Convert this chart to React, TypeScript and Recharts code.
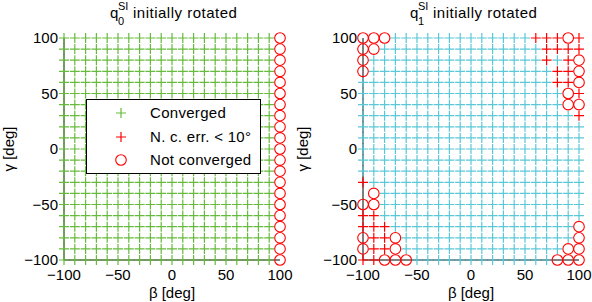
import React from 'react';
import { ScatterChart, Scatter, XAxis, YAxis, Legend } from 'recharts';

const betaValues = [-100, -90, -80, -70, -60, -50, -40, -30, -20, -10, 0, 10, 20, 30, 40, 50, 60, 70, 80, 90, 100];
const gammaValues = [-100, -90, -80, -70, -60, -50, -40, -30, -20, -10, 0, 10, 20, 30, 40, 50, 60, 70, 80, 90, 100];
const axisTicks = [-100, -50, 0, 50, 100];

// q0: only the beta = 100 column fails
const leftNotConvergedBeta = [100];

// q1: [beta, gamma]
const rightNcErr: [number, number][] = [
  [60, 100], [70, 100], [80, 100], [100, 100],
  [70, 90], [80, 90], [90, 90], [100, 90],
  [70, 80], [90, 80],
  [80, 70], [90, 70],
  [80, 60], [90, 60],
  [100, 50], [100, 30],
  [-100, -30],
  [-100, -60], [-90, -60],
  [-100, -70], [-90, -70], [-80, -70],
  [-90, -80], [-80, -80],
  [-90, -90], [-80, -90],
  [-100, -100], [-90, -100],
];
const rightNotConverged: [number, number][] = [
  [-100, 100], [-90, 100], [-80, 100], [-100, 90], [-90, 90], [-100, 80], [-100, 70],
  [90, 100], [100, 80], [100, 70], [100, 60], [90, 50], [90, 40], [100, 40],
  [-90, -40], [-100, -50], [-90, -50],
  [-100, -80], [-70, -80], [-100, -90], [-70, -90],
  [-80, -100], [-70, -100], [-60, -100],
  [100, -70], [100, -80], [90, -90], [100, -90], [80, -100], [90, -100], [100, -100],
];
const rightNoResult: [number, number][] = [[-100, -40]];

const GREEN = '#66bb3c';
const CYAN = '#5bc8d8';
const RED = '#ff0000';
const FONT = '"Liberation Sans", Arial, sans-serif';

type Pt = { beta: number; gamma: number };

const toPts = (list: [number, number][]): Pt[] => list.map(([beta, gamma]) => ({ beta, gamma }));
const has = (list: [number, number][], b: number, g: number) => list.some(([x, y]) => x === b && y === g);

const allGrid: [number, number][] = betaValues.flatMap((b) => gammaValues.map((g) => [b, g] as [number, number]));

const leftConverged = toPts(allGrid.filter(([b]) => !leftNotConvergedBeta.includes(b)));
const leftFailed = toPts(allGrid.filter(([b]) => leftNotConvergedBeta.includes(b)));

const rightConverged = toPts(
  allGrid.filter(([b, g]) => !has(rightNcErr, b, g) && !has(rightNotConverged, b, g) && !has(rightNoResult, b, g))
);
const rightErr = toPts(rightNcErr);
const rightFailed = toPts(rightNotConverged);

const plusShape = (color: string) => (props: any) => {
  const { cx, cy } = props;
  return (
    <path
      d={`M${cx - 5},${cy}H${cx + 5}M${cx},${cy - 5}V${cy + 5}`}
      stroke={color}
      strokeWidth={1.2}
      fill="none"
    />
  );
};

const circleShape = (props: any) => {
  const { cx, cy } = props;
  return <circle cx={cx} cy={cy} r={5.3} stroke={RED} strokeWidth={1.1} fill="none" />;
};

const fmt = (v: number) => String(v).replace('-', '\u2212');

const tickStyle = { fill: '#000', fontSize: 15, fontFamily: FONT };

const LegendBox = () => (
  <div
    style={{
      width: 173,
      height: 73,
      border: '1px solid #000',
      background: '#fff',
      fontFamily: FONT,
    }}
  >
    <svg width={173} height={73}>
      <g fontSize={15} fill="#000" letterSpacing={0.3}>
        <path d="M29,13H39M34,8V18" stroke={GREEN} strokeWidth={1.2} />
        <text x={63} y={18}>Converged</text>
        <path d="M29,37H39M34,32V42" stroke={RED} strokeWidth={1.2} />
        <text x={63} y={42}>N. c. err. &lt; 10°</text>
        <circle cx={34} cy={60} r={5.3} stroke={RED} strokeWidth={1.1} fill="none" />
        <text x={63} y={65}>Not converged</text>
      </g>
    </svg>
  </div>
);

function Panel({
  left,
  marginLeft,
  marginRight,
  yWidth,
  children,
  withLegend,
}: {
  left: number;
  marginLeft: number;
  marginRight: number;
  yWidth: number;
  children: React.ReactNode;
  withLegend?: boolean;
}) {
  return (
    <div style={{ position: 'absolute', left, top: 0 }}>
      <ScatterChart
        width={296}
        height={302}
        margin={{ top: 38, right: marginRight, left: marginLeft, bottom: 12 }}
      >
        <XAxis
          type="number"
          dataKey="beta"
          domain={[-100, 100]}
          ticks={axisTicks}
          tickFormatter={fmt}
          tick={tickStyle}
          tickLine={false}
          tickSize={0}
          tickMargin={9}
          height={30}
          axisLine={{ stroke: '#000' }}
        />
        <YAxis
          type="number"
          dataKey="gamma"
          domain={[-100, 100]}
          ticks={axisTicks}
          tickFormatter={fmt}
          tick={tickStyle}
          tickLine={false}
          tickSize={0}
          tickMargin={6}
          width={yWidth}
          axisLine={{ stroke: '#000' }}
        />
        {children}
        {withLegend && (
          <Legend
            layout="vertical"
            align="center"
            verticalAlign="middle"
            content={() => <LegendBox />}
            wrapperStyle={{ left: 86, top: 99, width: 175, height: 75 }}
          />
        )}
      </ScatterChart>
    </div>
  );
}

function Title({ x, sub }: { x: number; sub: string }) {
  return (
    <g fontFamily={FONT} fill="#000">
      <text x={x} y={18} fontSize={15}>q</text>
      <text x={x + 8} y={25} fontSize={11}>{sub}</text>
      <text x={x + 8} y={10} fontSize={11}>SI</text>
      <text x={x + 23} y={18} fontSize={15} letterSpacing={0.5}>initially rotated</text>
    </g>
  );
}

export default function App() {
  return (
    <div style={{ position: 'absolute', left: 0, top: 0, width: 592, height: 302, background: '#fff' }}>
      <Panel left={0} marginLeft={8} marginRight={16} yWidth={56} withLegend>
        <Scatter name="Converged" data={leftConverged} shape={plusShape(GREEN)} isAnimationActive={false} />
        <Scatter name="Not converged" data={leftFailed} shape={circleShape} isAnimationActive={false} />
      </Panel>
      <Panel left={296} marginLeft={8} marginRight={13} yWidth={59}>
        <Scatter name="Converged" data={rightConverged} shape={plusShape(CYAN)} isAnimationActive={false} />
        <Scatter name="N. c. err. < 10°" data={rightErr} shape={plusShape(RED)} isAnimationActive={false} />
        <Scatter name="Not converged" data={rightFailed} shape={circleShape} isAnimationActive={false} />
      </Panel>
      <svg width={592} height={302} style={{ position: 'absolute', left: 0, top: 0, pointerEvents: 'none' }}>
        <Title x={110} sub="0" />
        <Title x={410} sub="1" />
        <g fontFamily={FONT} fontSize={15} fill="#000" textAnchor="middle">
          <text x={172} y={298}>β [deg]</text>
          <text x={471} y={298}>β [deg]</text>
          <text transform="translate(14,149) rotate(-90)">γ [deg]</text>
          <text transform="translate(308,149) rotate(-90)">γ [deg]</text>
        </g>
      </svg>
    </div>
  );
}
